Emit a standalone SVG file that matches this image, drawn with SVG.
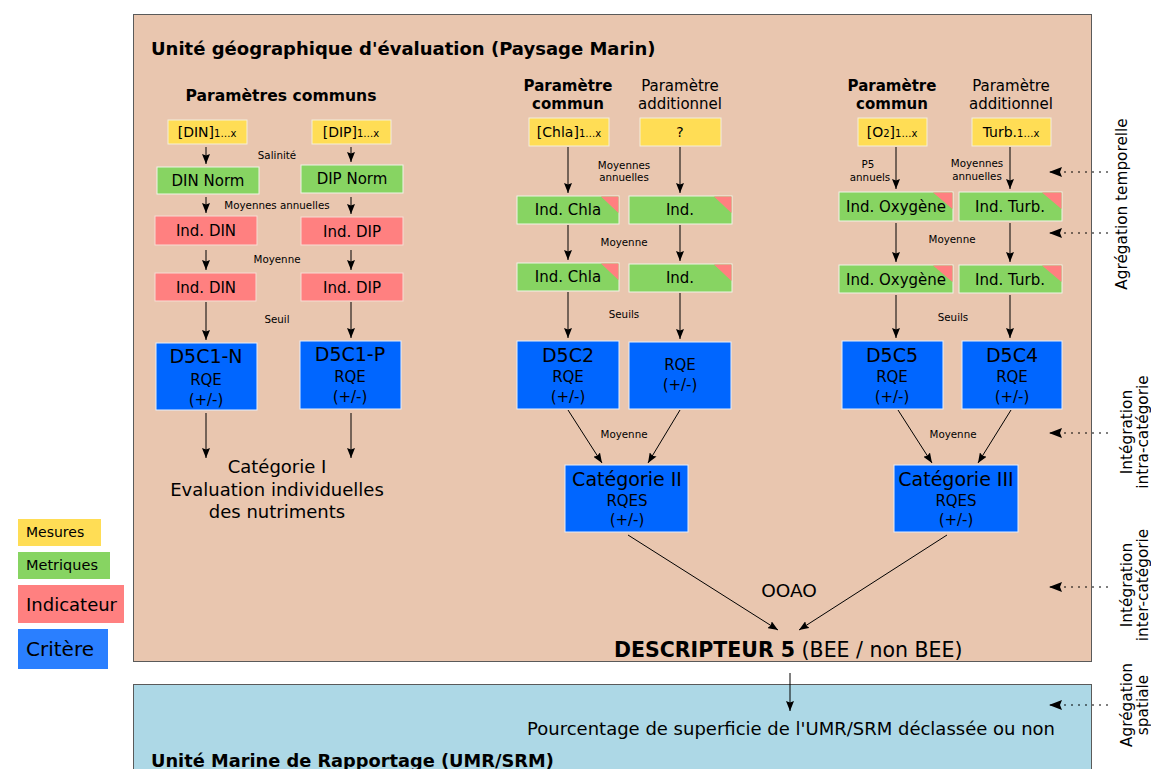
<svg xmlns="http://www.w3.org/2000/svg" width="1151" height="769" viewBox="0 0 1151 769">
<defs>
<marker id="ah" markerUnits="userSpaceOnUse" markerWidth="10" markerHeight="8" refX="10" refY="4" orient="auto">
<path d="M0,0 L10,4 L0,8 L1.5,4 z" fill="#000"/>
</marker>
<marker id="ahd" markerUnits="userSpaceOnUse" markerWidth="13" markerHeight="10" refX="13" refY="5" orient="auto">
<path d="M0,0 L13,5 L0,10 L2,5 z" fill="#000"/>
</marker>
</defs>
<style>
text{font-family:"DejaVu Sans","Liberation Sans",sans-serif;fill:#000}
.t{text-anchor:middle}
.b{font-weight:bold}
.y{fill:#ffdd55;stroke:#f4eedc;stroke-width:1}
.g{fill:#87d462;stroke:#f0f4e8;stroke-width:1}
.p{fill:#ff8080;stroke:#f8dcd4;stroke-width:1}
.c{fill:#0066ff;stroke:#e6eefc;stroke-width:1}
.tri{fill:#ff8080;stroke:none}
.s{font-size:10.3px}
.m{font-size:15px}
.yt{font-size:14px}
.sub{font-size:10px}
.big{font-size:19px}
.con line{stroke:#000;stroke-width:1;marker-end:url(#ah)}
.dot line{stroke:#000;stroke-width:1.2;stroke-dasharray:2,5;marker-end:url(#ahd)}
</style>
<rect width="1151" height="769" fill="#fff"/>
<g id="zone-paysage">
<rect x="133.5" y="14.5" width="958" height="647" fill="#e9c6af" stroke="#5a5a5a" stroke-width="1"/>
<text x="151" y="55" class="b" style="font-size:18px">Unité géographique d'évaluation (Paysage Marin)</text>
</g>
<g id="zone-umr">
<rect x="133.5" y="684.5" width="958" height="100" fill="#add8e6" stroke="#5a5a5a" stroke-width="1"/>
<text x="1055" y="735" style="font-size:18px;text-anchor:end">Pourcentage de superficie de l'UMR/SRM déclassée ou non</text>
<text x="151" y="767" class="b" style="font-size:17.8px">Unité Marine de Rapportage (UMR/SRM)</text>
</g>

<g id="headers">
<text x="281" y="101" class="t b" style="font-size:15.6px">Paramètres communs</text>
<text x="568" y="91" class="t b m">Paramètre</text>
<text x="568" y="109" class="t b m">commun</text>
<text x="680" y="91" class="t m">Paramètre</text>
<text x="680" y="109" class="t m">additionnel</text>
<text x="892" y="91" class="t b m">Paramètre</text>
<text x="892" y="109" class="t b m">commun</text>
<text x="1011" y="91" class="t m">Paramètre</text>
<text x="1011" y="109" class="t m">additionnel</text>
</g>

<g id="din-mesure"><rect x="168" y="120" width="79" height="24" class="y"/><text x="207" y="137" class="t yt">[DIN]<tspan class="sub">1…x</tspan></text></g>
<g id="dip-mesure"><rect x="312" y="120" width="79" height="24" class="y"/><text x="351" y="137" class="t yt">[DIP]<tspan class="sub">1…x</tspan></text></g>
<g id="chla-mesure"><rect x="529" y="118" width="80" height="28" class="y"/><text x="569" y="137" class="t yt">[Chla]<tspan class="sub">1…x</tspan></text></g>
<g id="add-mesure"><rect x="640" y="118" width="81" height="28" class="y"/><text x="680" y="137" class="t yt">?</text></g>
<g id="o2-mesure"><rect x="858" y="118" width="69" height="28" class="y"/><text x="892" y="137" class="t yt">[O<tspan class="sub">2</tspan>]<tspan class="sub">1…x</tspan></text></g>
<g id="turb-mesure"><rect x="972" y="118" width="79" height="28" class="y"/><text x="1011" y="137" class="t yt">Turb.<tspan class="sub">1…x</tspan></text></g>

<g id="din-norm"><rect x="157" y="167" width="102" height="27" class="g"/><text x="208" y="186" class="t m">DIN Norm</text></g>
<g id="dip-norm"><rect x="301" y="165" width="102" height="28" class="g"/><text x="352" y="184" class="t m">DIP Norm</text></g>

<g id="ind-din-1"><rect x="155" y="216" width="102" height="29" class="p"/><text x="206" y="236" class="t m">Ind. DIN</text></g>
<g id="ind-dip-1"><rect x="301" y="217" width="102" height="28" class="p"/><text x="352" y="237" class="t m">Ind. DIP</text></g>
<g id="ind-din-2"><rect x="155" y="273" width="101" height="28" class="p"/><text x="206" y="293" class="t m">Ind. DIN</text></g>
<g id="ind-dip-2"><rect x="301" y="273" width="102" height="28" class="p"/><text x="352" y="293" class="t m">Ind. DIP</text></g>

<g id="ind-chla-1"><rect x="517" y="196" width="102" height="28" class="g"/><path d="M601,196.5 L618.5,196.5 L618.5,213 z" class="tri"/><text x="568" y="215" class="t m">Ind. Chla</text></g>
<g id="ind-add-1"><rect x="629" y="196" width="103" height="28" class="g"/><path d="M714,196.5 L731.5,196.5 L731.5,213 z" class="tri"/><text x="680" y="215" class="t m">Ind.</text></g>
<g id="ind-chla-2"><rect x="517" y="263" width="102" height="28" class="g"/><path d="M601,263.5 L618.5,263.5 L618.5,280 z" class="tri"/><text x="568" y="282" class="t m">Ind. Chla</text></g>
<g id="ind-add-2"><rect x="629" y="264" width="103" height="28" class="g"/><path d="M714,264.5 L731.5,264.5 L731.5,281 z" class="tri"/><text x="680" y="283" class="t m">Ind.</text></g>

<g id="ind-oxy-1"><rect x="839" y="192" width="114" height="29" class="g"/><path d="M933,192.5 L952.5,192.5 L952.5,209 z" class="tri"/><text x="896" y="212" class="t m">Ind. Oxygène</text></g>
<g id="ind-turb-1"><rect x="959" y="192" width="103" height="29" class="g"/><path d="M1042,192.5 L1061.5,192.5 L1061.5,209 z" class="tri"/><text x="1010" y="212" class="t m">Ind. Turb.</text></g>
<g id="ind-oxy-2"><rect x="839" y="265" width="114" height="28" class="g"/><path d="M933,265.5 L952.5,265.5 L952.5,282 z" class="tri"/><text x="896" y="285" class="t m">Ind. Oxygène</text></g>
<g id="ind-turb-2"><rect x="959" y="265" width="103" height="28" class="g"/><path d="M1042,265.5 L1061.5,265.5 L1061.5,282 z" class="tri"/><text x="1010" y="285" class="t m">Ind. Turb.</text></g>

<g id="d5c1n"><rect x="156" y="343" width="101" height="67" class="c"/><text x="206" y="363" class="t big">D5C1-N</text><text x="206" y="385" class="t m">RQE</text><text x="206" y="405" class="t m">(+/-)</text></g>
<g id="d5c1p"><rect x="300" y="341" width="101" height="68" class="c"/><text x="350" y="361" class="t big">D5C1-P</text><text x="350" y="382" class="t m">RQE</text><text x="350" y="402" class="t m">(+/-)</text></g>
<g id="d5c2"><rect x="517" y="341" width="102" height="68" class="c"/><text x="568" y="362" class="t big">D5C2</text><text x="568" y="382" class="t m">RQE</text><text x="568" y="402" class="t m">(+/-)</text></g>
<g id="rqe-add"><rect x="629" y="342" width="102" height="67" class="c"/><text x="680" y="370" class="t m">RQE</text><text x="680" y="390" class="t m">(+/-)</text></g>
<g id="d5c5"><rect x="842" y="341" width="101" height="68" class="c"/><text x="892" y="362" class="t big">D5C5</text><text x="892" y="382" class="t m">RQE</text><text x="892" y="402" class="t m">(+/-)</text></g>
<g id="d5c4"><rect x="962" y="341" width="100" height="68" class="c"/><text x="1012" y="362" class="t big">D5C4</text><text x="1012" y="382" class="t m">RQE</text><text x="1012" y="402" class="t m">(+/-)</text></g>

<g id="categorie-1">
<text x="277" y="473" class="t" style="font-size:18px">Catégorie I</text>
<text x="277" y="496" class="t" style="font-size:18px">Evaluation individuelles</text>
<text x="277" y="518" class="t" style="font-size:18px">des nutriments</text>
</g>
<g id="categorie-2"><rect x="565" y="465" width="123" height="67" class="c"/><text x="627" y="486" class="t big">Catégorie II</text><text x="627" y="506" class="t m">RQES</text><text x="627" y="525" class="t m">(+/-)</text></g>
<g id="categorie-3"><rect x="894" y="465" width="124" height="67" class="c"/><text x="956" y="486" class="t big">Catégorie III</text><text x="956" y="506" class="t m">RQES</text><text x="956" y="525" class="t m">(+/-)</text></g>

<g id="descripteur">
<text x="614" y="657" style="font-size:20.5px"><tspan class="b">DESCRIPTEUR 5</tspan> (BEE / non BEE)</text>
</g>

<g id="legende">
<rect x="18" y="519" width="83" height="27" fill="#ffdd55"/><text x="26" y="537" style="font-size:14px">Mesures</text>
<rect x="18" y="552" width="92" height="27" fill="#87d462"/><text x="26" y="570" style="font-size:14.5px">Metriques</text>
<rect x="18" y="585" width="106" height="38" fill="#ff8080"/><text x="26" y="611" style="font-size:18px">Indicateur</text>
<rect x="18" y="629" width="90" height="40" fill="#2a7fff"/><text x="26" y="656" style="font-size:20px">Critère</text>
</g>

<g id="niveaux" style="font-size:15.3px">
<text transform="translate(1127,204) rotate(-90)" class="t">Agrégation temporelle</text>
<text transform="translate(1132,432) rotate(-90)" class="t">Intégration</text>
<text transform="translate(1148,432) rotate(-90)" class="t">intra-catégorie</text>
<text transform="translate(1132,585) rotate(-90)" class="t">Intégration</text>
<text transform="translate(1148,585) rotate(-90)" class="t">inter-catégorie</text>
<text transform="translate(1132,705) rotate(-90)" class="t">Agrégation</text>
<text transform="translate(1148,705) rotate(-90)" class="t">spatiale</text>
</g>

<g id="labels" class="s">
<text x="277" y="159" class="t">Salinité</text>
<text x="277" y="209" class="t">Moyennes annuelles</text>
<text x="277" y="263" class="t">Moyenne</text>
<text x="277" y="323" class="t">Seuil</text>
<text x="624" y="169" class="t">Moyennes</text>
<text x="624" y="181" class="t">annuelles</text>
<text x="624" y="246" class="t">Moyenne</text>
<text x="624" y="318" class="t">Seuils</text>
<text x="624" y="438" class="t">Moyenne</text>
<text x="868" y="168" class="t">P5</text>
<text x="870" y="181" class="t">annuels</text>
<text x="977" y="167" class="t">Moyennes</text>
<text x="977" y="180" class="t">annuelles</text>
<text x="952" y="243" class="t">Moyenne</text>
<text x="953" y="321" class="t">Seuils</text>
<text x="953" y="438" class="t">Moyenne</text>
<text x="789" y="597" class="t" style="font-size:18.5px">OOAO</text>
</g>

<g id="connecteurs" class="con">
<line x1="206" y1="147" x2="206" y2="164"/>
<line x1="206" y1="197" x2="206" y2="213"/>
<line x1="206" y1="250" x2="206" y2="270"/>
<line x1="206" y1="302" x2="206" y2="340"/>
<line x1="206" y1="413" x2="206" y2="458"/>
<line x1="351" y1="147" x2="351" y2="162"/>
<line x1="351" y1="197" x2="351" y2="214"/>
<line x1="351" y1="250" x2="351" y2="270"/>
<line x1="351" y1="302" x2="351" y2="338"/>
<line x1="351" y1="413" x2="351" y2="458"/>
<line x1="568" y1="147" x2="568" y2="193"/>
<line x1="568" y1="225" x2="568" y2="260"/>
<line x1="568" y1="292" x2="568" y2="338"/>
<line x1="680" y1="147" x2="680" y2="193"/>
<line x1="680" y1="225" x2="680" y2="261"/>
<line x1="680" y1="293" x2="680" y2="339"/>
<line x1="568" y1="410" x2="602" y2="463"/>
<line x1="680" y1="410" x2="648" y2="463"/>
<line x1="896" y1="147" x2="896" y2="189"/>
<line x1="896" y1="223" x2="896" y2="262"/>
<line x1="896" y1="295" x2="896" y2="338"/>
<line x1="1010" y1="147" x2="1010" y2="189"/>
<line x1="1010" y1="223" x2="1010" y2="262"/>
<line x1="1010" y1="295" x2="1010" y2="338"/>
<line x1="898" y1="410" x2="932" y2="463"/>
<line x1="1011" y1="410" x2="978" y2="463"/>
<line x1="628" y1="535" x2="778" y2="630"/>
<line x1="947" y1="535" x2="799" y2="630"/>
<line x1="790" y1="673" x2="790" y2="711"/>
</g>
<g id="connecteurs-niveaux" class="dot">
<line x1="1108" y1="172" x2="1049" y2="172"/>
<line x1="1108" y1="233" x2="1049" y2="233"/>
<line x1="1108" y1="433" x2="1049" y2="433"/>
<line x1="1108" y1="587" x2="1049" y2="587"/>
<line x1="1108" y1="705" x2="1049" y2="705"/>
</g>
</svg>
